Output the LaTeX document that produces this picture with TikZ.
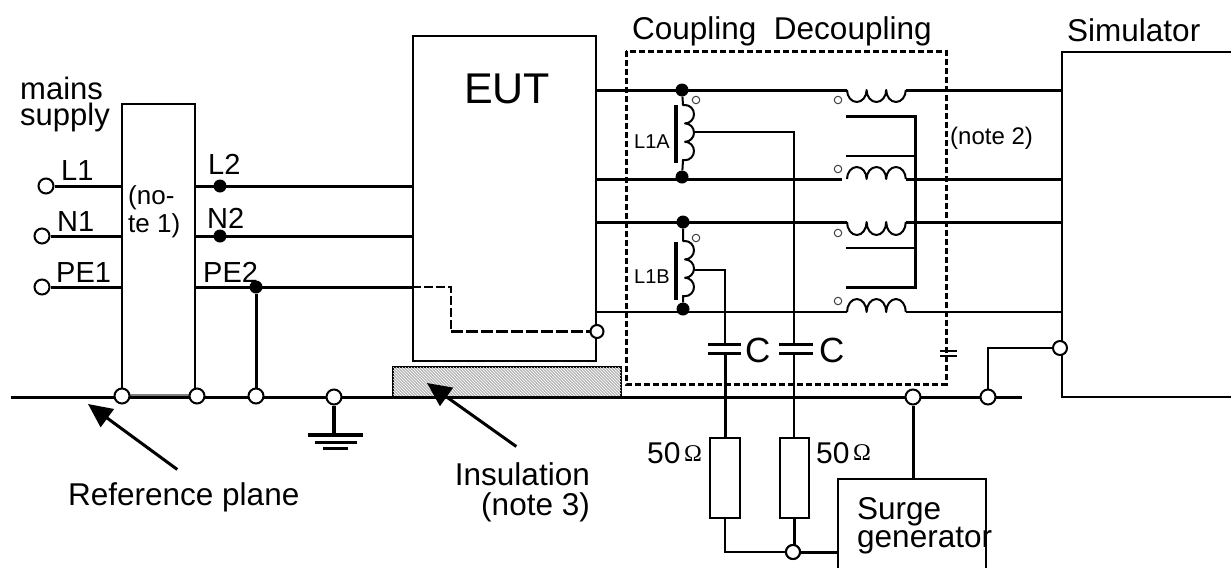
\documentclass[tikz,border=0pt]{standalone}
\usepackage{fontspec}
\setmainfont{Liberation Sans}
\newfontfamily\serifomega{Liberation Serif}
\usetikzlibrary{patterns,arrows.meta,calc}
\newcommand{\fs}[1]{\fontsize{#1}{26}\selectfont}
\tikzset{
  x=1pt,y=-1pt,
  wire/.style={line width=3pt},
  thinwire/.style={line width=2pt},
  boxed/.style={draw,line width=2pt,fill=none,inner sep=0pt,rectangle},
  opencirc/.style={circle,draw,line width=2pt,fill=white,minimum size=15pt,inner sep=0pt},
  smallcirc/.style={circle,draw=black!75,line width=1pt,fill=white,minimum size=7.5pt,inner sep=0pt},
  dot/.style={circle,fill=black,minimum size=13pt,inner sep=0pt},
  lbl/.style={anchor=base west,inner sep=0pt,text=black,font=\fs{29}},
  coil/.style={line width=2pt,line join=round},
  bigarrow/.style={line width=3pt,-{Triangle[length=24pt,width=22pt]}},
}
\begin{document}
\begin{tikzpicture}
\useasboundingbox (0,0) rectangle (1231,568);
\fill[white] (0,0) rectangle (1231,568);
% main boxes
\node[boxed,minimum width=73pt,minimum height=293pt] (filter) at (158.5,250.5) {};
\node[boxed,minimum width=183pt,minimum height=325pt] (eut) at (504.5,198.5) {};
\coordinate (simNW) at (1062,52); \coordinate (simSW) at (1062,397);
\coordinate (simNE) at (1231,52); \coordinate (simSE) at (1231,397);
\draw[thinwire] (simNE) -- (simNW) -- (simSW) -- (simSE);
\coordinate (gndL) at (11,397); \coordinate (gndR) at (1022,397);
% insulation
\draw[line width=1.5pt,fill=gray!55] (393,397) rectangle (621,367);
\path[pattern=north west lines,pattern color=white] (393,397) rectangle (621,367);
\draw[wire] (gndL) -- (gndR);
\draw[line width=2pt,gray] (122,394.5) -- (197,394.5);
% left terminals
\node[opencirc] (oL1) at (46,186) {};
\node[opencirc] (oN1) at (42,236) {};
\node[opencirc] (oPE1) at (42,287) {};
\draw[wire] (oL1) -- (oL1 -| filter.west);
\draw[wire] (oN1) -- (oN1 -| filter.west);
\draw[wire] (oPE1) -- (oPE1 -| filter.west);
\node[dot] (dL2) at (220,186) {};
\node[dot] (dN2) at (220,236) {};
\node[dot] (dPE2) at (256,287) {};
\draw[wire] (dL2 -| filter.east) -- (dL2 -| eut.west);
\draw[wire] (dN2 -| filter.east) -- (dN2 -| eut.west);
\draw[wire] (dPE2 -| filter.east) -- (dPE2 -| eut.west);
\node[opencirc] (g1) at (122,396) {};
\node[opencirc] (g2) at (197,396) {};
\node[opencirc] (g3) at (256,396) {};
\node[opencirc] (g4) at (334,397) {};
\draw[wire] (dPE2) -- (g3);
% earth symbol
\coordinate (e1) at (334,435);
\draw[line width=3.5pt] (g4) -- (e1);
\draw[line width=3.5pt] (308,435) -- (363,435);
\draw[line width=3pt] (315,442) -- (357,442);
\draw[line width=3.5pt] (323,448.5) -- (348,448.5);
% EUT inner dashed
\node[opencirc,minimum size=13pt] (eutc) at (597,331.5) {};
\coordinate (dk1) at (451,287); \coordinate (dk2) at (451,331.5);
\draw[line width=1.5pt,dash pattern=on 9pt off 3pt] (dPE2 -| eut.west) -- (dk1) -- (dk2);
\draw[line width=2.5pt,dash pattern=on 12pt off 3pt] (dk2) -- (eutc);
% right lines
\coordinate (l1a) at (596,90); \coordinate (l2a) at (596,179);
\coordinate (l3a) at (596,222); \coordinate (l4a) at (596,312);
\node[dot] (da1) at (682,90) {};
\node[dot] (da2) at (682,177) {};
\node[dot] (db1) at (683,222) {};
\node[dot] (db2) at (683,309) {};
\draw[wire] (l1a) -- (842,179 |- l1a);
\draw[wire] (l2a) -- (842,179);
\draw[wire] (l3a) -- (847,222);
\draw[thinwire] (l4a) -- (847,312);
\draw[wire] (842,90) -- (847,90);
\draw[wire] (906,90) -- (1062,90);
\draw[wire] (906,179) -- (1062,179);
\draw[wire] (906,222) -- (1062,222);
\draw[thinwire] (906,312) -- (1062,312);
% chokes
\draw[coil] (847,90) arc[start angle=180,end angle=0,x radius=9.8,y radius=12]
  arc[start angle=180,end angle=0,x radius=9.8,y radius=12]
  arc[start angle=180,end angle=0,x radius=9.8,y radius=12];
\draw[coil] (847,222) arc[start angle=180,end angle=0,x radius=9.8,y radius=13]
  arc[start angle=180,end angle=0,x radius=9.8,y radius=13]
  arc[start angle=180,end angle=0,x radius=9.8,y radius=13];
\draw[coil] (847,179) arc[start angle=180,end angle=360,x radius=9.8,y radius=12]
  arc[start angle=180,end angle=360,x radius=9.8,y radius=12]
  arc[start angle=180,end angle=360,x radius=9.8,y radius=12];
\draw[coil] (847,312) arc[start angle=180,end angle=360,x radius=9.8,y radius=13]
  arc[start angle=180,end angle=360,x radius=9.8,y radius=13]
  arc[start angle=180,end angle=360,x radius=9.8,y radius=13];
\node[smallcirc] at (838,100) (c1) {};
\node[smallcirc] at (838,169) (c2) {};
\node[smallcirc] at (838,233) (c3) {};
\node[smallcirc] at (838,301) (c4) {};
% choke cores
\draw[wire,line join=miter] (846,116) -- (915,116) -- (915,287) -- (846,287);
\draw[thinwire] (846,156) -- (915,156);
\draw[thinwire] (846,248) -- (915,248);
% coupling inductors
\draw[line width=3.5pt] (676,105) -- (676,163);
\draw[line width=3.5pt] (676,242) -- (676,300);
\draw[coil] (da1) -- (683,105) -- (685,105)
  arc[start angle=-90,end angle=90,x radius=9,y radius=9.2]
  arc[start angle=-90,end angle=90,x radius=9,y radius=9.2]
  arc[start angle=-90,end angle=90,x radius=9,y radius=9.2] -- (683,160) -- (da2);
\draw[coil] (db1) -- (683,241) -- (685,241)
  arc[start angle=-90,end angle=90,x radius=9,y radius=9.2]
  arc[start angle=-90,end angle=90,x radius=9,y radius=9.2]
  arc[start angle=-90,end angle=90,x radius=9,y radius=9.2] -- (683,296) -- (db2);
\node[smallcirc] at (696,100) (c5) {};
\node[smallcirc] at (696,238) (c6) {};
% capacitors and resistors
\node[boxed,minimum width=30pt,minimum height=80pt] (r1) at (725,478) {};
\node[boxed,minimum width=29pt,minimum height=80pt] (r2) at (794.5,478) {};
\coordinate (tapA) at (694,132); \coordinate (tapB) at (694,270);
\coordinate (cornerA) at (794,132); \coordinate (cornerB) at (725,270);
\draw[thinwire] (tapA) -- (cornerA) -- (r2.north -| cornerA);
\draw[thinwire] (tapB) -- (cornerB) -- (725,344);
\draw[wire] (725,353) -- (r1.north);
\draw[line width=3pt] (708,344) -- (741,344) (708,353) -- (741,353);
\fill[white] (779,345.5) rectangle (813,351.5);
\draw[line width=3pt] (779,344) -- (813,344) (779,353) -- (813,353);
% right small cap
\draw[line width=2pt] (940,351) -- (957,351) (940,356) -- (957,356);
% dashed box
\draw[line width=3pt,dash pattern=on 6pt off 3pt] (626,51) rectangle (946,384);
% surge generator
\node[opencirc] (g5) at (913,397) {};
\node[opencirc] (g6) at (988,397) {};
\node[opencirc,minimum size=14pt] (j1) at (793,552) {};
\coordinate (sgNW) at (838,479); \coordinate (sgNE) at (986,479);
\coordinate (sgSW) at (838,568); \coordinate (sgSE) at (986,568);
\draw[thinwire] (sgSW) -- (sgNW) -- (sgNE) -- (sgSE);
\draw[wire] (g5) -- (g5 |- sgNW);
\draw[thinwire] (r1.south) |- (j1);
\draw[wire] (r2.south) -- (r2.south |- j1);
\node[opencirc,minimum size=14pt] at (j1) {};
\draw[wire] (j1) -- (j1 -| sgNW);
% simulator ground
\node[opencirc,minimum size=14pt] (s1) at (1060,348) {};
\draw[thinwire] (s1) -| (g6);
% arrows
\node[inner sep=0pt] (refarrowtail) at (178,470) {};
\node[inner sep=0pt] (insarrowtail) at (517,447) {};
\coordinate (reftip) at (88,404);
\coordinate (instip) at (427,383);
\draw[bigarrow] (refarrowtail) -- (reftip);
\draw[bigarrow] (insarrowtail) -- (instip);
% labels
\node[lbl,font=\fs{31},align=left] (tmains) at (20,125) {mains\\supply};
\node[lbl] (tL1) at (61,180) {L1};
\node[lbl] (tN1) at (57,231) {N1};
\node[lbl] (tPE1) at (56,282) {PE1};
\node[lbl] (tL2) at (208,174) {L2};
\node[lbl] (tN2) at (207,228) {N2};
\node[lbl] (tPE2) at (203,282) {PE2};
\node[lbl,font=\fontsize{26}{28}\selectfont,align=left] (tnote1) at (128,232) {(no-\\te 1)};
\node[lbl,font=\fs{43}] (tEUT) at (464,103) {EUT};
\node[lbl,font=\fs{31.5}] (tcd) at (632,39) {Coupling\ \ Decoupling};
\node[lbl,font=\fs{31.5}] (tsim) at (1067,41) {Simulator};
\node[lbl,font=\fs{24}] (tn2) at (950,144) {(note 2)};
\node[lbl,font=\fs{20}] (tL1A) at (634,148) {L1A};
\node[lbl,font=\fs{20}] (tL1B) at (634,283) {L1B};
\node[lbl,font=\fs{35}] (tC1) at (745,362) {C};
\node[lbl,font=\fs{35}] (tC2) at (819,362) {C};
\node[lbl,font=\fs{30}] (t50a) at (647,463) {50};
\node[lbl,font=\fs{24}\serifomega] (tOa) at (684,461) {Ω};
\node[lbl,font=\fs{30}] (t50b) at (816,463) {50};
\node[lbl,font=\fs{24}\serifomega] (tOb) at (853,460) {Ω};
\node[lbl,font=\fs{31.5},align=left] (tsurge) at (857,547) {Surge\\generator};
\node[lbl,font=\fs{31.5}] (tref) at (68,505) {Reference plane};
\node[lbl,font=\fontsize{31.5}{30}\selectfont,align=right,anchor=base east] (tins) at (590,515) {Insulation\\(note 3)};
\end{tikzpicture}
\end{document}
